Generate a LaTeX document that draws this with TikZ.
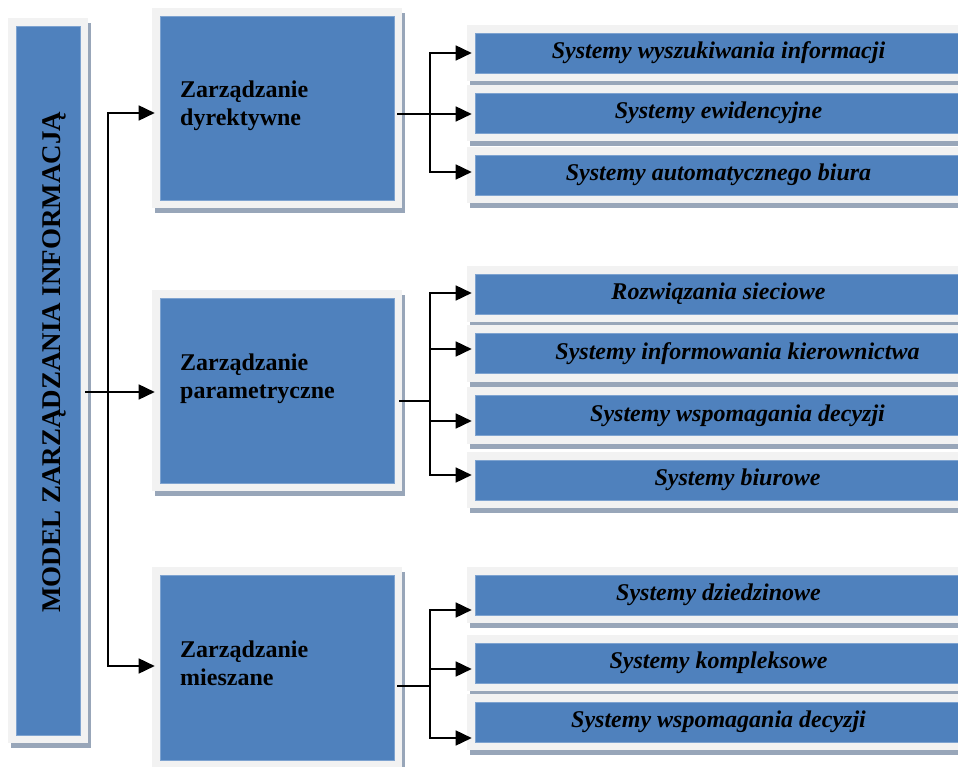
\documentclass[tikz,border=0pt]{standalone}
\usepackage{fontspec}
\setmainfont{Liberation Serif}
\usetikzlibrary{arrows.meta,calc,backgrounds}
\definecolor{boxblue}{HTML}{4F81BD}
\definecolor{edgeblue}{HTML}{7EA3D0}
\definecolor{framegray}{HTML}{F2F2F2}
\definecolor{shadowgray}{HTML}{98A6B9}
\newcommand\myframedbox[1]{%
  \begin{pgfonlayer}{background}
    \fill[shadowgray] ($(#1.north west)+(-5,-3)$) rectangle ($(#1.south east)+(11,13)$);
    \fill[framegray] ($(#1.north west)+(-8,-8)$) rectangle ($(#1.south east)+(8,8)$);
  \end{pgfonlayer}}
\begin{document}
\begin{tikzpicture}[x=1pt,y=-1pt,
  bluebox/.style={fill=boxblue, draw=edgeblue, line width=0.6pt, inner sep=0pt},
  leftbox/.style={bluebox, minimum width=64pt, minimum height=709pt},
  midbox/.style={bluebox, minimum width=234pt, minimum height=185pt},
  sysbox/.style={bluebox, minimum width=487pt, minimum height=40pt,
    font=\fontsize{24}{27}\selectfont\bfseries\itshape},
  righttext/.style={execute at begin node={\hspace*{38pt}}},
  midtext/.style={anchor=west, align=left, inner sep=0pt,
    font=\fontsize{24}{28}\selectfont\bfseries},
  conn/.style={line width=1.6pt},
  arr/.style={line width=1.6pt, -{Triangle[length=16pt,width=15pt]}}]
\useasboundingbox (0,0) rectangle (958,767);

% left box
\node[leftbox] (L) at (48,380.5) {};
\myframedbox{L}
\node[rotate=90, inner sep=0pt, font=\fontsize{27}{30}\selectfont\bfseries] (Ltext) at (54,362) {MODEL ZARZĄDZANIA INFORMACJĄ};

% middle boxes
\node[midbox, minimum height=184pt] (m1) at (277,108) {};
\myframedbox{m1}
\node[midtext] (m1t) at (180,106) {Zarządzanie\\dyrektywne};
\node[midbox] (m2) at (277,390.5) {};
\myframedbox{m2}
\node[midtext] (m2t) at (180,378.5) {Zarządzanie\\parametryczne};
\node[midbox] (m3) at (277,667.5) {};
\myframedbox{m3}
\node[midtext] (m3t) at (180,663) {Zarządzanie\\mieszane};

% right boxes, group 1
\node[sysbox] (r11) at (718.5,53) {Systemy wyszukiwania informacji};
\myframedbox{r11}
\node[sysbox] (r12) at (718.5,113) {Systemy ewidencyjne};
\myframedbox{r12}
\node[sysbox] (r13) at (718.5,175) {Systemy automatycznego biura};
\myframedbox{r13}
% group 2
\node[sysbox] (r21) at (718.5,294) {Rozwiązania sieciowe};
\myframedbox{r21}
\node[sysbox, righttext] (r22) at (718.5,353.5) {Systemy informowania kierownictwa};
\myframedbox{r22}
\node[sysbox, righttext] (r23) at (718.5,415.5) {Systemy wspomagania decyzji};
\myframedbox{r23}
\node[sysbox, righttext] (r24) at (718.5,480) {Systemy biurowe};
\myframedbox{r24}
% group 3
\node[sysbox] (r31) at (718.5,595) {Systemy dziedzinowe};
\myframedbox{r31}
\node[sysbox] (r32) at (718.5,663) {Systemy kompleksowe};
\myframedbox{r32}
\node[sysbox] (r33) at (718.5,722) {Systemy wspomagania decyzji};
\myframedbox{r33}

% left connectors
\coordinate (jL) at (108,392);
\draw[arr] ([xshift=5pt]L.east |- jL) -- ([xshift=-5pt]m2.west |- jL);
\draw[arr] (jL) |- ([xshift=-5pt,yshift=-5pt]m1.west);
\draw[arr] (jL) |- ([xshift=-5pt,yshift=1.5pt]m3.west);

% group 1 connectors
\coordinate (j1) at (430,114);
\draw[conn] ([xshift=3pt]m1.east |- j1) -- (j1);
\draw[arr] (j1) |- ([xshift=-3pt]r11.west);
\draw[arr] (j1) -- ([xshift=-3pt]r12.west |- j1);
\draw[arr] (j1) |- ([xshift=-3pt,yshift=3pt]r13.west);

% group 2 connectors
\coordinate (j2) at (430,401);
\draw[conn] ([xshift=5pt]m2.east |- j2) -- (j2);
\draw[arr] (j2) |- ([xshift=-3pt,yshift=1pt]r21.west);
\draw[arr] (j2) |- ([xshift=-3pt,yshift=4.5pt]r22.west);
\draw[arr] (j2) |- ([xshift=-3pt,yshift=-5.5pt]r23.west);
\draw[arr] (j2) |- ([xshift=-3pt,yshift=5pt]r24.west);

% group 3 connectors
\coordinate (j3) at (430,686);
\draw[conn] ([xshift=3pt]m3.east |- j3) -- (j3);
\draw[arr] (j3) |- ([xshift=-3pt,yshift=-15pt]r31.west);
\draw[arr] (j3) |- ([xshift=-3pt,yshift=-6pt]r32.west);
\draw[arr] (j3) |- ([xshift=-3pt,yshift=-16pt]r33.west);
\end{tikzpicture}
\end{document}
